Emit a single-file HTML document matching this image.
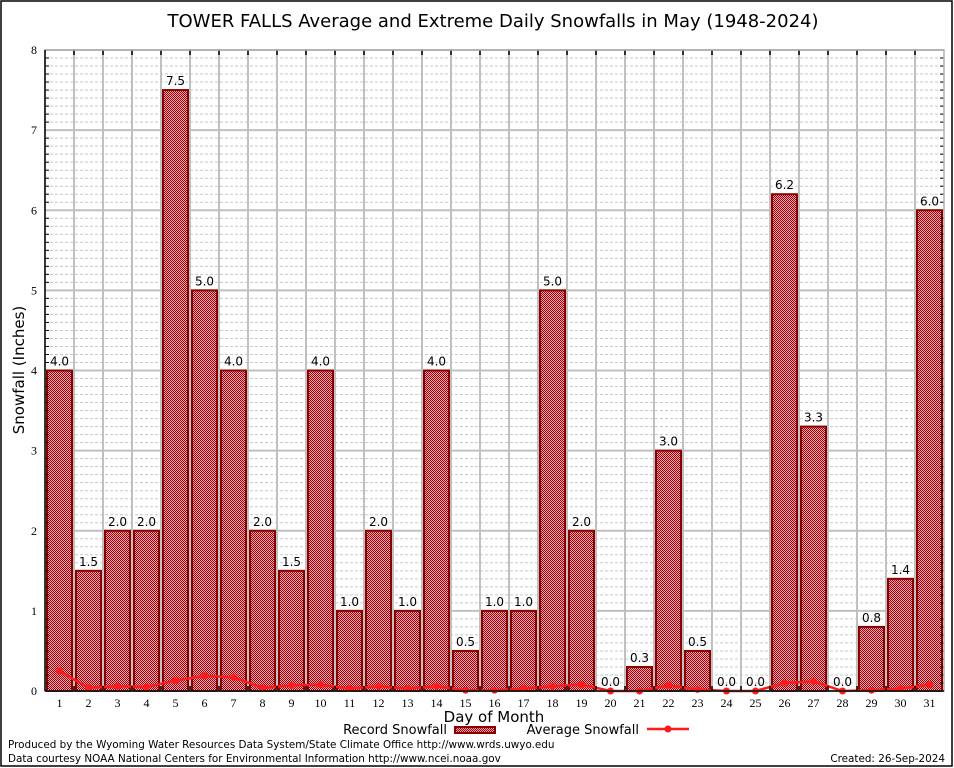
<!DOCTYPE html>
<html><head><meta charset="utf-8"><style>
body{margin:0;background:#fff;}
svg{display:block;font-family:"DejaVu Sans","Liberation Sans",sans-serif;}
</style></head><body>
<svg id="chart" width="954" height="768" viewBox="0 0 954 768">
<defs>
<pattern id="hatch" width="2" height="2" patternUnits="userSpaceOnUse">
<rect width="2" height="2" fill="#e8a8a8"/>
<rect x="0" y="0" width="1" height="1" fill="#a00010"/>
<rect x="1" y="1" width="1" height="1" fill="#a00010"/>
</pattern>
</defs>
<rect x="1" y="1" width="951" height="765" fill="#fff" stroke="#000" stroke-width="1.5"/>
<text x="493" y="27" font-size="18" text-anchor="middle">TOWER FALLS Average and Extreme Daily Snowfalls in May (1948-2024)</text>
<g id="grid"></g>
<g id="bars"></g>
<g id="avg"></g>
<g id="axes"></g>
<text x="24" y="370" font-size="15" text-anchor="middle" transform="rotate(-90 24 370)">Snowfall (Inches)</text>
<text x="494" y="722" font-size="15" text-anchor="middle">Day of Month</text>
<g>
<text x="447" y="734" font-size="13" text-anchor="end">Record Snowfall</text>
<rect x="455" y="727" width="40" height="6" fill="url(#hatch)" stroke="#8b0000" stroke-width="2"/>
<text x="639" y="734" font-size="13" text-anchor="end">Average Snowfall</text>
<line x1="647" y1="729" x2="689" y2="729" stroke="#ff1a1a" stroke-width="2.5"/>
<circle cx="668" cy="729" r="3.5" fill="#ff1a1a"/>
</g>
<text x="8" y="748" font-size="10.4">Produced by the Wyoming Water Resources Data System/State Climate Office http://www.wrds.uwyo.edu</text>
<text x="8" y="762" font-size="10.4">Data courtesy NOAA National Centers for Environmental Information http://www.ncei.noaa.gov</text>
<text x="945" y="762" font-size="10.4" text-anchor="end">Created: 26-Sep-2024</text>
</svg>
<script>
const days = [1,2,3,4,5,6,7,8,9,10,11,12,13,14,15,16,17,18,19,20,21,22,23,24,25,26,27,28,29,30,31];
const recordSnow = [4.0,1.5,2.0,2.0,7.5,5.0,4.0,2.0,1.5,4.0,1.0,2.0,1.0,4.0,0.5,1.0,1.0,5.0,2.0,0.0,0.3,3.0,0.5,0.0,0.0,6.2,3.3,0.0,0.8,1.4,6.0];
const avgSnow = [0.25,0.04,0.06,0.05,0.13,0.19,0.17,0.04,0.07,0.08,0.03,0.06,0.03,0.06,0.01,0.01,0.03,0.06,0.08,0.0,0.0,0.07,0.02,0.0,0.0,0.1,0.12,0.0,0.01,0.03,0.08];
const yTicks = [0,1,2,3,4,5,6,7,8];

const NS="http://www.w3.org/2000/svg";
const X0=45,X1=944,Y0=691,Y1=50,YMAX=8;
const slot=(X1-X0)/days.length;
function xs(i){return X0+slot*(i+0.5);}
function ys(v){return Y0-(Y0-Y1)*v/YMAX;}
function mk(t,a,p){const e=document.createElementNS(NS,t);for(const k in a)e.setAttribute(k,a[k]);p.appendChild(e);return e;}
const grid=document.getElementById('grid'),bars=document.getElementById('bars'),avg=document.getElementById('avg'),axes=document.getElementById('axes');

for(let m=0;m<YMAX*10;m++){
  const v=m/10;
  if(m%10===0)continue;
  const l=mk('line',{x1:X0,x2:X1,y1:ys(v),y2:ys(v),stroke:'#c8c8c8','stroke-width':1,'stroke-dasharray':'3,2'},grid);
  
  
  const t=mk('line',{x1:X0,x2:X0+4,y1:ys(v),y2:ys(v),stroke:'#000','stroke-width':1},axes);
  
  
  const t2=mk('line',{x1:X1-4,x2:X1,y1:ys(v),y2:ys(v),stroke:'#000','stroke-width':1},axes);
  
  
}
yTicks.forEach(v=>{
  const l=mk('line',{x1:X0,x2:X1,y1:ys(v),y2:ys(v),stroke:'#c0c0c0','stroke-width':2},grid);
  
  
  const tx=mk('text',{x:X0-8,y:ys(v)+4,'font-size':12,'text-anchor':'end','font-family':'Liberation Serif, serif'},axes);
  tx.textContent=v;
  
  
});
for(let i=1;i<days.length;i++){
  const x=X0+slot*i;
  const l=mk('line',{x1:x,x2:x,y1:Y1,y2:Y0,stroke:'#c0c0c0','stroke-width':2},grid);
  
  
  const t=mk('line',{x1:x,x2:x,y1:Y1,y2:Y1+5,stroke:'#000','stroke-width':1.5},axes);
  
  
  const t2=mk('line',{x1:x,x2:x,y1:Y0-5,y2:Y0,stroke:'#000','stroke-width':1.5},axes);
  
  
}
const fr=mk('rect',{x:X0,y:Y1,width:X1-X0,height:Y0-Y1,fill:'none',stroke:'#b0b0b0','stroke-width':1.5},axes);


const la=mk('line',{x1:X0,x2:X0,y1:Y1,y2:Y0,stroke:'#000','stroke-width':1.5},axes);


const ba=mk('line',{x1:X0,x2:X1,y1:Y0,y2:Y0,stroke:'#000','stroke-width':1.5},axes);



days.forEach((d,i)=>{
  const v=recordSnow[i],cx=xs(i);
  if(v>0){
    const r=mk('rect',{x:cx-12.5,y:ys(v),width:25,height:Y0-ys(v),fill:'url(#hatch)',stroke:'#8b0000','stroke-width':2},bars);
    
    
  }
  const lb=mk('text',{x:cx,y:ys(v)-5,'font-size':12,'text-anchor':'middle'},bars);
  lb.textContent=v.toFixed(1);
  
  
  const xl=mk('text',{x:cx,y:Y0+16,'font-size':12,'text-anchor':'middle','font-family':'Liberation Serif, serif'},axes);
  xl.textContent=d;
  
  
});
const pts=avgSnow.map((v,i)=>xs(i)+','+ys(v)).join(' ');
const pl=mk('polyline',{points:pts,fill:'none',stroke:'#ff1a1a','stroke-width':2.5},avg);


avgSnow.forEach((v,i)=>{
  const c=mk('circle',{cx:xs(i),cy:ys(v),r:3.5,fill:'#ff1a1a'},avg);
  
  
});
</script>
</body></html>
